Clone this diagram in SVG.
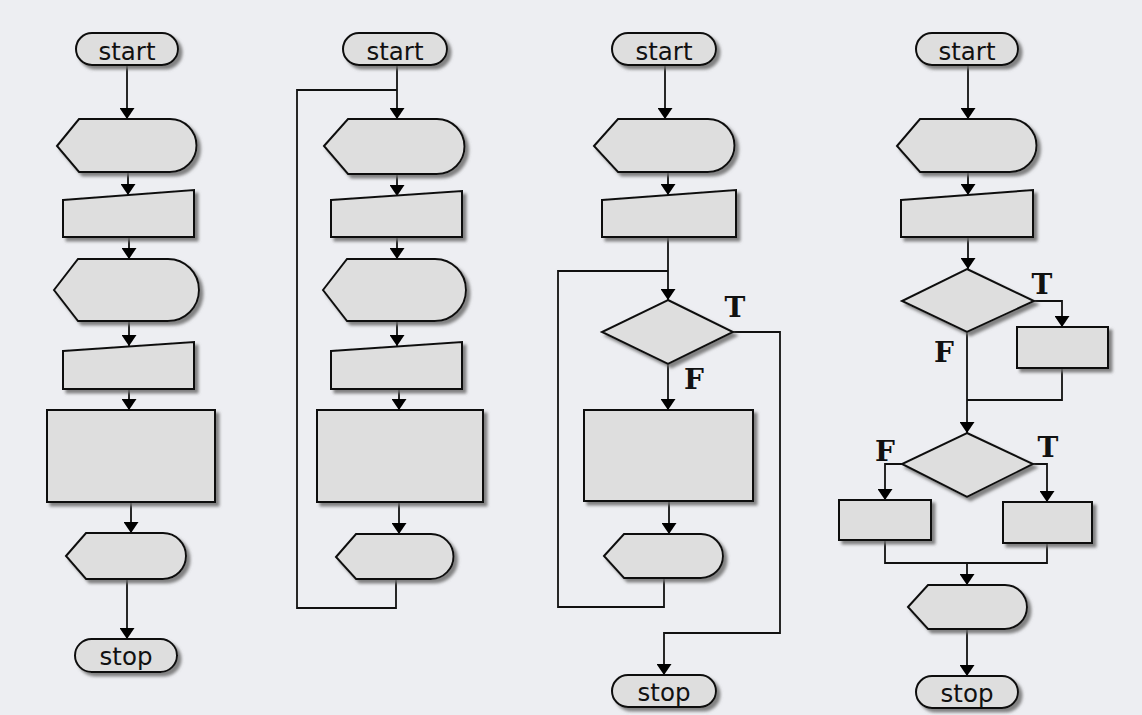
<svg xmlns="http://www.w3.org/2000/svg" width="1142" height="715" viewBox="0 0 1142 715">
<defs>
  <filter id="sh" x="-10%" y="-10%" width="130%" height="140%">
    <feDropShadow dx="3.5" dy="3.5" stdDeviation="1.6" flood-color="#6e6e6e" flood-opacity="0.85"/>
  </filter>
  <marker id="ah" markerUnits="userSpaceOnUse" markerWidth="12" markerHeight="15" refX="11" refY="7.5" orient="auto">
    <path d="M0,0 L11,7.5 L0,15 Z" fill="#000"/>
  </marker>
</defs>
<style>
  .n { fill: #dedede; stroke: #111; stroke-width: 2; filter: url(#sh); }
  .c { fill: none; stroke: #111; stroke-width: 1.8; }
  .a { marker-end: url(#ah); }
  .t { font-family: "DejaVu Sans", "Liberation Sans", sans-serif; font-size: 24.5px; fill: #111; text-anchor: middle; }
  .l { font-family: "DejaVu Serif", "Liberation Serif", serif; font-weight: bold; font-size: 28px; fill: #111; text-anchor: middle; }
</style>
<rect width="1142" height="715" fill="#edeef2"/>

<g id="connectors">
  <!-- chart 1 -->
  <path class="c a" d="M127,65 V119"/>
  <path class="c a" d="M128,172 V195"/>
  <path class="c a" d="M129,237 V259"/>
  <path class="c a" d="M129,321 V346"/>
  <path class="c a" d="M129,389 V410"/>
  <path class="c a" d="M131,502 V533"/>
  <path class="c a" d="M127,579 V639"/>
  <!-- chart 2 -->
  <path class="c a" d="M397,65 V119"/>
  <path class="c" d="M396,579 V608 H297 V90 H397"/>
  <path class="c a" d="M397,174 V196"/>
  <path class="c a" d="M397,237 V259"/>
  <path class="c a" d="M397,321 V346"/>
  <path class="c a" d="M399,389 V410"/>
  <path class="c a" d="M399,502 V534"/>
  <!-- chart 3 -->
  <path class="c a" d="M665,65 V119"/>
  <path class="c a" d="M668,172 V195"/>
  <path class="c a" d="M668,237 V300"/>
  <path class="c" d="M664,578 V607 H558 V271 H668"/>
  <path class="c a" d="M668,364 V410"/>
  <path class="c a" d="M669,501 V534"/>
  <path class="c a" d="M733,332 H780 V633 H664 V675"/>
  <!-- chart 4 -->
  <path class="c a" d="M968,65 V119"/>
  <path class="c a" d="M968,172 V195"/>
  <path class="c a" d="M968,237 V269"/>
  <path class="c a" d="M1034,301 H1062 V327"/>
  <path class="c" d="M1062,368 V400 H967"/>
  <path class="c a" d="M967,332 V433"/>
  <path class="c a" d="M902,464 H885 V500"/>
  <path class="c a" d="M1033,464 H1047 V502"/>
  <path class="c" d="M885,540 V563 H1047 V543"/>
  <path class="c a" d="M967,563 V585"/>
  <path class="c a" d="M967,629 V676"/>
</g>

<!-- chart 1 -->
<g id="c1-start"><rect class="n" x="76" y="33" width="102" height="32" rx="16"/><text class="t" x="127" y="60">start</text></g>
<g id="c1-display1"><path class="n" d="M57,146 L79,119 H170 A26.5,26.5 0 0 1 170,172 H79 Z"/></g>
<g id="c1-input1"><polygon class="n" points="63,200 194,190 194,237 63,237"/></g>
<g id="c1-display2"><path class="n" d="M54,290 L78,259 H168 A31,31 0 0 1 168,321 H78 Z"/></g>
<g id="c1-input2"><polygon class="n" points="63,351 194,342 194,389 63,389"/></g>
<g id="c1-process"><rect class="n" x="47" y="410" width="168" height="92"/></g>
<g id="c1-display3"><path class="n" d="M66,556 L86,533 H163 A23,23 0 0 1 163,579 H86 Z"/></g>
<g id="c1-stop"><rect class="n" x="75" y="639" width="102" height="33" rx="16.5"/><text class="t" x="126" y="665">stop</text></g>

<!-- chart 2 -->
<g id="c2-start"><rect class="n" x="343" y="33" width="104" height="32" rx="16"/><text class="t" x="395" y="60">start</text></g>
<g id="c2-display1"><path class="n" d="M324,146 L348,119 H437 A27.5,27.5 0 0 1 437,174 H348 Z"/></g>
<g id="c2-input1"><polygon class="n" points="331,200 462,191 462,237 331,237"/></g>
<g id="c2-display2"><path class="n" d="M323,290 L347,259 H435 A31,31 0 0 1 435,321 H347 Z"/></g>
<g id="c2-input2"><polygon class="n" points="331,351 462,342 462,389 331,389"/></g>
<g id="c2-process"><rect class="n" x="317" y="410" width="166" height="92"/></g>
<g id="c2-display3"><path class="n" d="M336,557 L356,534 H431 A22.5,22.5 0 0 1 431,579 H356 Z"/></g>

<!-- chart 3 -->
<g id="c3-start"><rect class="n" x="612" y="33" width="104" height="32" rx="16"/><text class="t" x="664" y="60">start</text></g>
<g id="c3-display1"><path class="n" d="M594,146 L618,119 H708 A26.5,26.5 0 0 1 708,172 H618 Z"/></g>
<g id="c3-input1"><polygon class="n" points="602,200 736,190 736,237 602,237"/></g>
<g id="c3-decision"><polygon class="n" points="668,300 733,332 668,364 602,332"/><text class="l" x="735" y="317">T</text><text class="l" x="694" y="389">F</text></g>
<g id="c3-process"><rect class="n" x="584" y="410" width="169" height="91"/></g>
<g id="c3-display2"><path class="n" d="M604,556 L624,534 H701 A22,22 0 0 1 701,578 H624 Z"/></g>
<g id="c3-stop"><rect class="n" x="612" y="675" width="104" height="32" rx="16"/><text class="t" x="664" y="701">stop</text></g>

<!-- chart 4 -->
<g id="c4-start"><rect class="n" x="916" y="33" width="102" height="32" rx="16"/><text class="t" x="967" y="60">start</text></g>
<g id="c4-display1"><path class="n" d="M897,146 L920,119 H1010 A26.5,26.5 0 0 1 1010,172 H920 Z"/></g>
<g id="c4-input1"><polygon class="n" points="901,200 1033,190 1033,237 901,237"/></g>
<g id="c4-decision1"><polygon class="n" points="967,269 1034,301 967,332 902,301"/><text class="l" x="1042" y="294">T</text><text class="l" x="944" y="362">F</text></g>
<g id="c4-process1"><rect class="n" x="1017" y="327" width="91" height="41"/></g>
<g id="c4-decision2"><polygon class="n" points="967,433 1033,464 967,497 902,464"/><text class="l" x="885" y="461">F</text><text class="l" x="1048" y="457">T</text></g>
<g id="c4-process2"><rect class="n" x="839" y="500" width="92" height="40"/></g>
<g id="c4-process3"><rect class="n" x="1003" y="502" width="89" height="41"/></g>
<g id="c4-display2"><path class="n" d="M908,607 L928,585 H1005 A22,22 0 0 1 1005,629 H928 Z"/></g>
<g id="c4-stop"><rect class="n" x="916" y="676" width="102" height="32" rx="16"/><text class="t" x="967" y="702">stop</text></g>
</svg>
